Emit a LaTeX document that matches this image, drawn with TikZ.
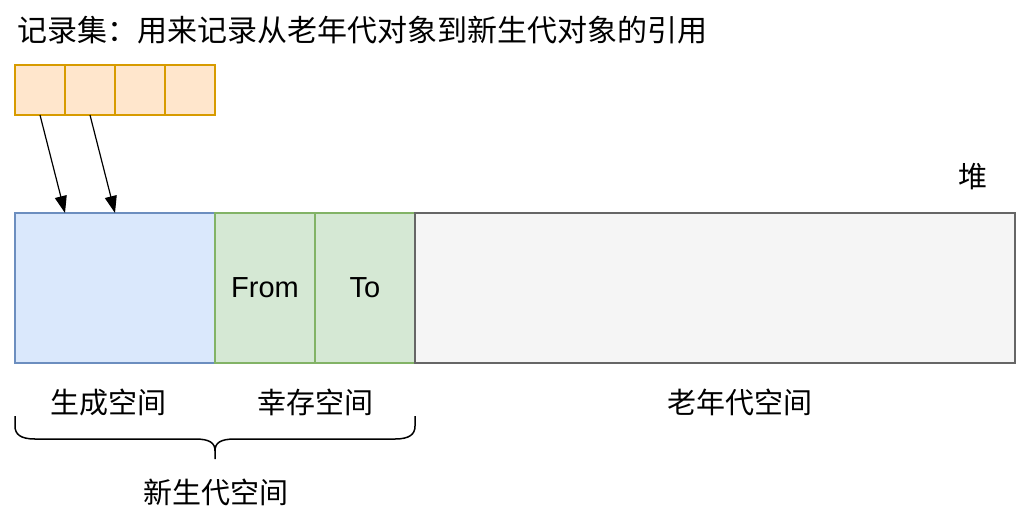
\documentclass[tikz,border=0pt]{standalone}
\usepackage{fontspec}
\setmainfont{Liberation Sans}
\newfontfamily\cjk{Noto Sans CJK SC}
\usetikzlibrary{arrows.meta, positioning, calc}
\definecolor{cardfill}{HTML}{FFE6CC}
\definecolor{carddraw}{HTML}{D79B00}
\definecolor{edenfill}{HTML}{DAE8FC}
\definecolor{edendraw}{HTML}{6C8EBF}
\definecolor{survfill}{HTML}{D5E8D4}
\definecolor{survdraw}{HTML}{82B366}
\definecolor{oldfill}{HTML}{F5F5F5}
\definecolor{olddraw}{HTML}{666666}

\begin{document}
\begin{tikzpicture}[
  x=1pt, y=-1pt,
  node distance=0pt,
  every node/.style={inner sep=0pt, outer sep=0pt},
  cell/.style={draw=carddraw, fill=cardfill, line width=1.5pt,
               minimum width=50pt, minimum height=50pt},
  region/.style={line width=1.5pt, minimum height=150pt,
                 font=\fontsize{29}{35}\selectfont},
  lbl/.style={font=\cjk\fontsize{29}{35}\selectfont},
  arr/.style={-{Triangle[length=17pt, width=12pt]}, line width=1.2pt}
]
  \useasboundingbox (0,0) rectangle (1024,516);

  % card table
  \node[cell, anchor=north west] (c1) at (15,65) {};
  \node[cell, right=of c1] (c2) {};
  \node[cell, right=of c2] (c3) {};
  \node[cell, right=of c3] (c4) {};

  % heap regions
  \node[region, draw=edendraw, fill=edenfill, minimum width=200pt,
        anchor=north west] (eden) at (15,213) {};
  \node[region, draw=survdraw, fill=survfill, minimum width=100pt,
        right=of eden] (from) {From};
  \node[region, draw=survdraw, fill=survfill, minimum width=100pt,
        right=of from] (to) {To};
  \node[region, draw=olddraw, fill=oldfill, minimum width=600pt,
        right=of to] (old) {};

  \coordinate (p1) at ([xshift=50pt]eden.north west);
  \coordinate (p2) at ([xshift=100pt]eden.north west);
  \draw[arr] (c1.south) -- (p1);
  \draw[arr] (c2.south) -- (p2);

  \node[lbl, font=\cjk\fontsize{30}{36}\selectfont, anchor=west] (title)
    at (17,30) {记录集：用来记录从老年代对象到新生代对象的引用};
  \node[lbl] (heap) at (973,177) {堆};

  \node[lbl] (edenlbl) at ($(eden.south)+(-7,39)$) {生成空间};
  \node[lbl] (survlbl) at ($(from.south east)+(0,39)$) {幸存空间};
  \node[lbl] (oldlbl) at ($(old.south)+(25,39)$) {老年代空间};

  % brace
  \draw[line width=1.5pt] (15,416) -- (15,426)
    .. controls (15,434) and (20,439) .. (35,439) -- (195,439)
    .. controls (210,439) and (215,443) .. (215,451) -- (215,459);
  \draw[line width=1.5pt] (415,416) -- (415,426)
    .. controls (415,434) and (410,439) .. (395,439) -- (235,439)
    .. controls (220,439) and (215,443) .. (215,451);

  \node[lbl] (younglbl) at (216,492) {新生代空间};
\end{tikzpicture}
\end{document}
